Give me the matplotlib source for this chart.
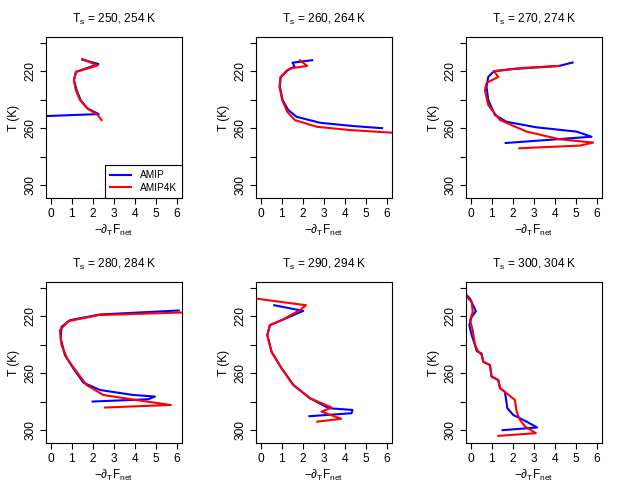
import matplotlib
matplotlib.use("Agg")
import matplotlib.pyplot as plt

plt.rcParams['font.family'] = ['Liberation Sans', 'DejaVu Sans']
plt.rcParams['mathtext.fontset'] = 'custom'
plt.rcParams['mathtext.rm'] = 'Liberation Sans'
plt.rcParams['mathtext.fallback'] = 'stixsans'

TITLES = ["250, 254", "260, 264", "270, 274", "280, 284", "290, 294", "300, 304"]

# AMIP (blue) profiles: x = -dT Fnet, T = temperature (K)
amip250_x = [1.50, 2.28, 1.21, 1.11, 1.24, 1.43, 1.75, 2.29, -0.40]
amip250_t = [211.8, 215.0, 220.5, 226.3, 233.3, 240.3, 246.1, 250.1, 251.6]
amip260_x = [2.46, 1.52, 1.62, 1.25, 0.95, 0.92, 1.05, 1.32, 1.71, 2.83, 4.41, 5.79]
amip260_t = [212.3, 214.0, 216.8, 219.5, 224.4, 231.0, 240.3, 247.3, 252.0, 256.2, 258.5, 260.0]
amip270_x = [4.86, 4.22, 2.0, 1.11, 0.84, 0.76, 0.84, 1.16, 1.71, 3.14, 5.05, 5.76, 1.67]
amip270_t = [213.9, 216.3, 218.5, 220.0, 224.0, 231.0, 240.3, 250.8, 255.5, 259.4, 262.4, 266.0, 270.4]
amip280_x = [6.11, 2.35, 0.92, 0.52, 0.48, 0.68, 1.08, 1.56, 2.35, 3.94, 4.97, 4.65, 2.00]
amip280_t = [216.0, 218.8, 222.8, 227.5, 235.6, 247.3, 256.6, 266.6, 271.8, 275.3, 276.4, 278.3, 279.9]
amip290_x = [0.65, 2.03, 1.0, 0.44, 0.32, 0.52, 1.0, 1.56, 2.35, 3.25, 4.38, 4.33, 2.32]
amip290_t = [212.3, 216.3, 222.8, 226.3, 233.3, 245.0, 256.6, 268.3, 277.6, 284.6, 285.8, 288.1, 290.2]
amip300_x = [-0.22, -0.03, 0.25, 0.05, -0.06, 0.05, 0.21, 0.29, 0.52, 0.60, 0.92, 1.00,
             1.32, 1.40, 1.63, 1.68, 1.75, 2.03, 2.67, 3.17, 1.52]
amip300_t = [204.8, 207.6, 216.5, 220.5, 226.3, 233.3, 240.3, 244.5, 246.1, 252.0, 254.3, 262.4,
             264.8, 270.6, 272.9, 277.6, 284.6, 289.3, 294.0, 298.1, 300.0]

# AMIP4K (red) profiles
amip4k250_x = [1.52, 2.24, 1.21, 1.11, 1.20, 1.40, 1.75, 2.25, 2.43]
amip4k250_t = [211.5, 216.0, 220.5, 226.3, 233.3, 240.3, 246.1, 250.8, 254.3]
amip4k260_x = [1.87, 2.22, 1.40, 0.95, 0.90, 1.03, 1.27, 1.63, 2.67, 4.25, 6.30]
amip4k260_t = [212.3, 216.3, 218.1, 224.0, 231.0, 240.3, 248.5, 254.3, 259.0, 261.3, 263.2]
amip4k270_x = [4.22, 2.40, 1.11, 1.32, 0.76, 0.68, 0.84, 1.40, 2.67, 4.25, 5.84, 5.21, 2.32]
amip4k270_t = [216.3, 217.8, 220.0, 224.0, 228.2, 233.3, 243.8, 254.3, 262.4, 267.8, 270.1, 272.2, 274.1]
amip4k280_x = [6.30, 2.30, 0.84, 0.44, 0.52, 0.80, 1.24, 1.71, 2.51, 4.25, 5.73, 2.59]
amip4k280_t = [217.4, 219.2, 223.5, 229.8, 240.3, 250.0, 259.0, 268.3, 275.3, 279.2, 282.3, 284.1]
amip4k290_x = [-0.40, 2.16, 1.90, 1.00, 0.44, 0.32, 0.52, 1.00, 1.56, 2.35, 3.38, 2.90, 3.84, 2.70]
amip4k290_t = [207.3, 212.3, 215.5, 222.8, 226.3, 233.3, 245.0, 256.6, 268.3, 277.6, 284.1, 287.0, 292.0, 294.0]
amip4k300_x = [-0.22, 0.05, 0.10, -0.03, 0.10, 0.21, 0.37, 0.52, 0.60, 0.92, 1.00, 1.32, 1.40,
               1.71, 2.11, 2.19, 2.35, 2.59, 3.11, 1.32]
amip4k300_t = [205.8, 210.0, 217.0, 222.8, 229.8, 240.3, 245.0, 247.0, 252.0, 254.3, 262.4, 264.8, 270.6,
               274.1, 278.8, 286.9, 292.8, 297.4, 302.1, 304.0]

AMIP_X = [amip250_x, amip260_x, amip270_x, amip280_x, amip290_x, amip300_x]
AMIP_T = [amip250_t, amip260_t, amip270_t, amip280_t, amip290_t, amip300_t]
AMIP4K_X = [amip4k250_x, amip4k260_x, amip4k270_x, amip4k280_x, amip4k290_x, amip4k300_x]
AMIP4K_T = [amip4k250_t, amip4k260_t, amip4k270_t, amip4k280_t, amip4k290_t, amip4k300_t]

FS = 8.6

fig = plt.figure(figsize=(6.3, 4.9), dpi=100)

for i in range(6):
    row, col = divmod(i, 3)
    left = (46 + 210 * col) / 630
    bottom = 1 - (198 + 245 * row) / 490
    ax = fig.add_axes([left, bottom, 136 / 630, 161 / 490])

    ax.plot(AMIP_X[i], AMIP_T[i], color='#0000ff', lw=1.5, label='AMIP')
    ax.plot(AMIP4K_X[i], AMIP4K_T[i], color='#ff0000', lw=1.5, label='AMIP4K')

    ax.set_xlim(-0.22, 6.26)
    ax.set_ylim(309, 196)
    ax.set_xticks(range(7))
    ax.set_yticks([200, 220, 240, 260, 280, 300])
    ax.set_yticklabels(['', '220', '', '260', '', '300'], rotation=90, va='center')
    ax.tick_params(direction='out', length=4, width=0.8, labelsize=FS, pad=3)
    for s in ax.spines.values():
        s.set_linewidth(0.8)

    ax.set_title(r'$\mathregular{T_s}$ = ' + TITLES[i] + ' K', fontsize=FS, pad=10)
    ax.set_xlabel(r'$\mathregular{-\partial_T F_{net}}$', fontsize=FS, labelpad=2)
    ax.set_ylabel('T (K)', fontsize=FS, labelpad=3)

    if i == 0:
        leg = ax.legend(loc='lower right', borderaxespad=0, fancybox=False,
                        edgecolor='black', framealpha=1, fontsize=7.3,
                        handlelength=2.0, handletextpad=0.9, borderpad=0.5,
                        labelspacing=0.25)
        leg.get_frame().set_linewidth(0.8)

fig.savefig('out.png', dpi=100)
